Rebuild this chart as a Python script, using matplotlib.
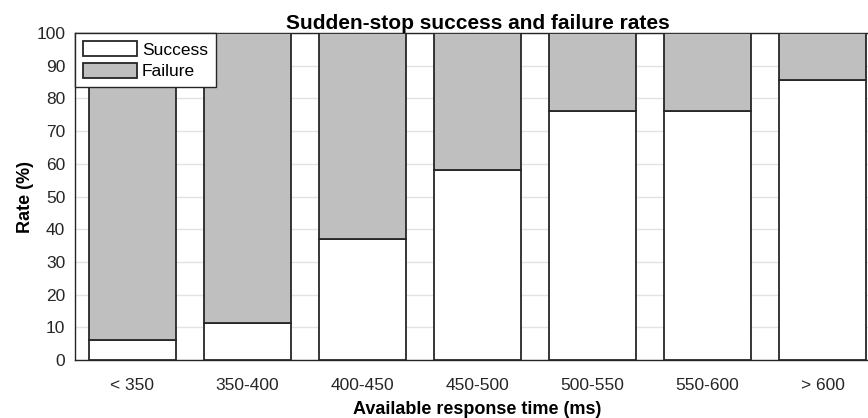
import matplotlib
matplotlib.use("Agg")
import matplotlib.pyplot as plt
import numpy as np

categories = ["< 350", "350-400", "400-450", "450-500", "500-550", "550-600", "> 600"]
success = [6.0, 11.2, 37.0, 58.0, 76.0, 76.0, 85.6]
failure = [100 - s for s in success]

plt.rcParams['font.family'] = ['Liberation Sans', 'DejaVu Sans']

fig = plt.figure(figsize=(8.68, 4.18), dpi=100)
ax = fig.add_axes([75/868, 1 - 360/418, 805/868, 327/418])

x = np.arange(1, len(categories) + 1)
edge = '#262626'
ax.bar(x, success, width=0.75, color='white', edgecolor=edge, linewidth=1.3, label='Success', zorder=3)
ax.bar(x, failure, width=0.75, bottom=success, color='#bfbfbf', edgecolor=edge, linewidth=1.3, label='Failure', zorder=3)

ax.set_xlim(0.5, 7.5)
ax.set_ylim(0, 100)
ax.set_yticks(np.arange(0, 101, 10))
ax.set_xticks(x)
ax.set_xticklabels(categories)
ax.tick_params(axis='both', length=0, labelsize=12.5, colors='#262626')
ax.tick_params(axis='x', pad=13)
ax.tick_params(axis='y', pad=7)
ax.yaxis.grid(True, color='#e3e3e3', linewidth=1, zorder=0)
ax.set_axisbelow(True)
for s in ['left', 'bottom', 'top', 'right']:
    ax.spines[s].set_color('#262626')
    ax.spines[s].set_linewidth(1)

ax.set_title('Sudden-stop success and failure rates', fontsize=15, fontweight='bold', pad=2)
ax.set_xlabel('Available response time (ms)', fontsize=13, fontweight='bold', labelpad=6)
ax.set_ylabel('Rate (%)', fontsize=13, fontweight='bold', labelpad=1.5)

leg = ax.legend(loc='upper left', borderaxespad=0, fancybox=False, framealpha=1,
                edgecolor='#262626', fontsize=12.5, handlelength=3.1, handleheight=1.0,
                handletextpad=0.3, borderpad=0.45, labelspacing=0.3)
leg.get_frame().set_linewidth(1)
leg.set_zorder(5)

fig.savefig('out.png', dpi=100)
